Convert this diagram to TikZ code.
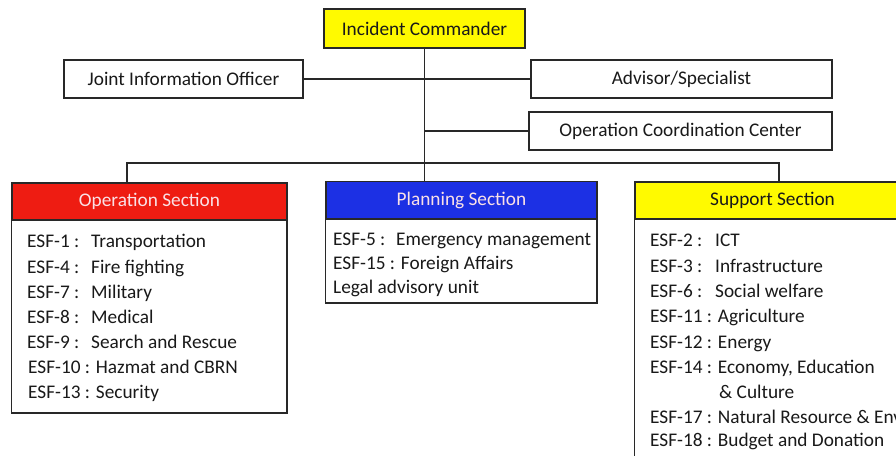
\documentclass[tikz,border=0pt]{standalone}
\usepackage{fontspec}
\setmainfont{Carlito}
\definecolor{opred}{RGB}{238,28,18}
\definecolor{plblue}{RGB}{28,48,228}
\definecolor{icyellow}{RGB}{255,250,0}
\definecolor{linec}{RGB}{40,40,40}
\definecolor{lighttxt}{RGB}{250,225,230}
\begin{document}
\begin{tikzpicture}[x=1pt,y=-1pt,
  font=\fontsize{19.3}{23}\selectfont,
  box/.style={draw=linec, line width=1.2pt, inner sep=0pt, text=black!90},
  conn/.style={draw=linec, line width=1.2pt},
  row/.style={anchor=base west, inner sep=0pt, text=black!90}]
\useasboundingbox (0,0) rectangle (896,455);
\clip (0,0) rectangle (896,455);
\fill[white] (0,0) rectangle (896,455);

% top boxes
\node[box, fill=icyellow, minimum width=201pt, minimum height=39pt] (ic) at (424.5,28.5) {Incident Commander};
\node[box, minimum width=239pt, minimum height=38pt] (jio) at (183.5,79) {Joint Information Officer};
\node[box, minimum width=301pt, minimum height=38pt] (adv) at (681.5,79) {Advisor/Specialist};
\node[box, minimum width=303pt, minimum height=38pt] (occ) at (680.5,131) {Operation Coordination Center};

% section headers and bodies
\node[box, fill=opred, text=lighttxt, minimum width=275pt, minimum height=37pt] (oph) at (149.5,201.5) {Operation Section};
\node[box, fill=plblue, text=lighttxt, minimum width=271pt, minimum height=37pt] (plh) at (461.5,200) {Planning Section};
\node[box, fill=icyellow, minimum width=275pt, minimum height=37pt] (suh) at (772.5,200.5) {Support Section};
\draw[box] (oph.south west) rectangle (287,413);
\draw[box] (plh.south west) rectangle (597,303);
\draw[box] (suh.south west) rectangle (910,470);

% connectors
\coordinate (bL) at (127,163);
\coordinate (bR) at (779,163);
\draw[conn] (ic.south) -- (ic.south |- plh.north);
\draw[conn] (jio.east) -- (adv.west);
\draw[conn] (ic.south |- occ.west) -- (occ.west);
\draw[conn] (bL |- oph.north) -- (bL) -- (bR) -- (bR |- suh.north);

% operation rows
\node[row] (o1a) at (27,247) {ESF-1 :};  \node[row] (o1b) at (91,247) {Transportation};
\node[row] (o2a) at (27,273) {ESF-4 :};  \node[row] (o2b) at (91,273) {Fire fighting};
\node[row] (o3a) at (27,298) {ESF-7 :};  \node[row] (o3b) at (91,298) {Military};
\node[row] (o4a) at (27,323) {ESF-8 :};  \node[row] (o4b) at (91,323) {Medical};
\node[row] (o5a) at (27,348) {ESF-9 :};  \node[row] (o5b) at (91,348) {Search and Rescue};
\node[row] (o6) at (28,373) {ESF-10 : Hazmat and CBRN};
\node[row] (o7) at (28,398) {ESF-13 : Security};

% planning rows
\node[row] (p1a) at (333,245) {ESF-5 :}; \node[row] (p1b) at (396,245) {Emergency management};
\node[row] (p2) at (333,269) {ESF-15 : Foreign Affairs};
\node[row] (p3) at (333,293) {Legal advisory unit};

% support rows
\node[row] (s1a) at (650,246) {ESF-2 :}; \node[row] (s1b) at (715,246) {ICT};
\node[row] (s2a) at (650,272) {ESF-3 :}; \node[row] (s2b) at (715,272) {Infrastructure};
\node[row] (s3a) at (650,297) {ESF-6 :}; \node[row] (s3b) at (715,297) {Social welfare};
\node[row] (s4) at (650,322) {ESF-11 : Agriculture};
\node[row] (s5) at (650,348) {ESF-12 : Energy};
\node[row] (s6) at (650,373) {ESF-14 : Economy, Education};
\node[row] (s6b) at (719,398) {\& Culture};
\node[row] (s7) at (650,423) {ESF-17 : Natural Resource \& Environment};
\node[row] (s8) at (650,446) {ESF-18 : Budget and Donation};
\end{tikzpicture}
\end{document}
